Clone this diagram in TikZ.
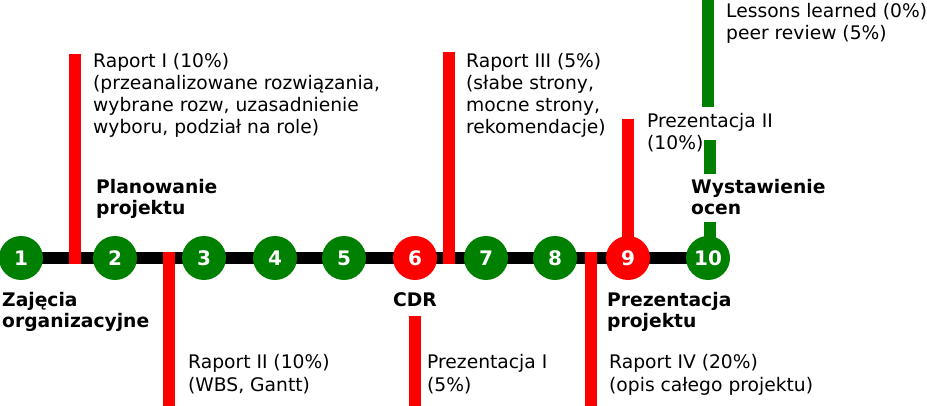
\documentclass[tikz,border=0pt]{standalone}
\usepackage{fontspec}
\setmainfont{DejaVu Sans}
\usetikzlibrary{backgrounds}
\definecolor{dgreen}{HTML}{008000}
\definecolor{bred}{HTML}{FF0000}
\begin{document}
\begin{tikzpicture}[x=1pt,y=-1pt,
  week/.style={circle, minimum size=44pt, inner sep=0pt, text=white,
    font=\fontsize{20}{24}\selectfont\bfseries},
  gw/.style={week, fill=dgreen},
  rw/.style={week, fill=bred},
  lbl/.style={anchor=base west, align=left, inner sep=0pt,
    font=\fontsize{18.7}{22.3}\selectfont},
  blbl/.style={anchor=base west, align=left, inner sep=0pt,
    font=\fontsize{18.7}{21}\selectfont\bfseries},
  rbar/.style={line width=12pt, draw=bred},
  gbar/.style={line width=12pt, draw=dgreen},
  axis/.style={line width=12pt, draw=black}]
\useasboundingbox (0,0) rectangle (927,406);
% week circles
\node[gw] (w1) at (21,258) {1};
\node[gw] (w2) at (115,258) {2};
\node[gw] (w3) at (204,258) {3};
\node[gw] (w4) at (275,258) {4};
\node[gw] (w5) at (344,258) {5};
\node[rw] (w6) at (415,258) {6};
\node[gw] (w7) at (486,258) {7};
\node[gw] (w8) at (555,258) {8};
\node[rw] (w9) at (628,258) {9};
\node[gw] (w10) at (708,258) {10};
% bar end points
\coordinate (b1t) at (75,54);   \coordinate (b1b) at (75,264);
\coordinate (b2t) at (169,252); \coordinate (b2b) at (169,406);
\coordinate (b3t) at (449,52);  \coordinate (b3b) at (449,264);
\coordinate (p1t) at (415,316); \coordinate (p1b) at (415,406);
\coordinate (b4t) at (591,252); \coordinate (b4b) at (591,406);
\coordinate (p2t) at (628,119);
\coordinate (g1t) at (707.5,0);  \coordinate (g1b) at (707.5,107);
\coordinate (g2t) at (710,140);  \coordinate (g2b) at (710,174);
\coordinate (g3t) at (710,222);  \coordinate (g3b) at (710,258);
\begin{pgfonlayer}{background}
  \draw[axis] (w1.center) -- (w10.center);
  \draw[rbar] (b1t) -- (b1b);
  \draw[rbar] (b2t) -- (b2b);
  \draw[rbar] (b3t) -- (b3b);
  \draw[rbar] (p1t) -- (p1b);
  \draw[rbar] (b4t) -- (b4b);
  \draw[rbar] (p2t) -- (w9.center);
  \draw[gbar] (g1t) -- (g1b);
  \draw[gbar] (g2t) -- (g2b);
  \draw[gbar] (g3t) -- (g3b);
\end{pgfonlayer}
% labels (anchor = baseline of last line)
\node[lbl] (r1) at (93,134) {Raport I (10\%)\\(przeanalizowane rozwiązania,\\wybrane rozw, uzasadnienie\\wyboru, podział na role)};
\node[blbl] (plan) at (96,215) {Planowanie\\projektu};
\node[blbl] (zaj) at (2,327) {Zajęcia\\organizacyjne};
\node[lbl] (r2) at (188,391) {Raport II (10\%)\\(WBS, Gantt)};
\node[blbl] (cdr) at (393,306) {CDR};
\node[lbl] (pr1) at (427,391) {Prezentacja I\\(5\%)};
\node[lbl] (r3) at (466,134) {Raport III (5\%)\\(słabe strony,\\mocne strony,\\rekomendacje)};
\node[blbl] (prez) at (607,327) {Prezentacja\\projektu};
\node[lbl] (r4) at (609,391) {Raport IV (20\%)\\(opis całego projektu)};
\node[lbl] (pr2) at (647,150) {Prezentacja II\\(10\%)};
\node[lbl] (ll) at (726,40) {Lessons learned (0\%)\\peer review (5\%)};
\node[blbl] (ocen) at (691,215) {Wystawienie\\ocen};
\end{tikzpicture}
\end{document}
